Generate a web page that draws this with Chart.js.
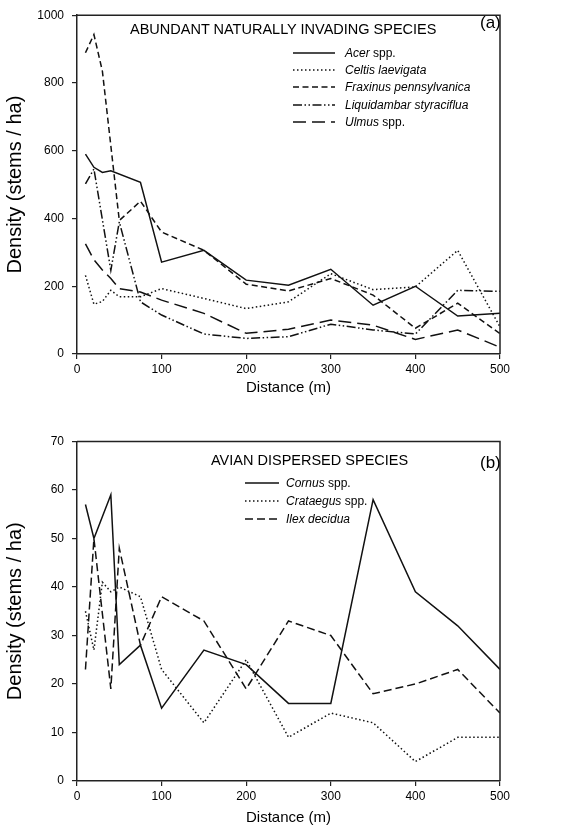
<!DOCTYPE html>
<html>
<head>
<meta charset="utf-8">
<script src="https://cdn.jsdelivr.net/npm/chart.js@4.4.0/dist/chart.umd.min.js"></script>
<style>
  body { margin: 0; background: #fff; }
  #page { position: relative; width: 572px; height: 836px; font-family: "Liberation Sans", Arial, sans-serif; color: #000; }
  canvas { position: absolute; left: 0; }
  #chartA { top: 0; }
  #chartB { top: 418px; }
  .head { position: absolute; font-size: 14.5px; line-height: 18px; white-space: nowrap; }
  .panel { position: absolute; font-size: 17px; line-height: 20px; }
  .leg { position: absolute; height: 16px; font-size: 12px; line-height: 16px; white-space: nowrap; }
  .leg svg { position: absolute; top: 0; left: 0; }
  .leg span { position: absolute; top: 0; }
</style>
</head>
<body>
<div id="page">
  <canvas id="chartA" width="572" height="418"></canvas>
  <canvas id="chartB" width="572" height="418"></canvas>
  <div class="head" style="left:130px; top:20px;">ABUNDANT NATURALLY INVADING SPECIES</div>
  <div class="panel" style="left:480px; top:13px;">(a)</div>
  <div class="head" style="left:211px; top:451px;">AVIAN DISPERSED SPECIES</div>
  <div class="panel" style="left:480px; top:453px;">(b)</div>
</div>
<script>
// distances from forest edge (m)
const distances = [10, 20, 30, 40, 50, 75, 100, 150, 200, 250, 300, 350, 400, 450, 500];

// (a) abundant naturally invading species, stems / ha
const acer        = [590, 551, 536, 541, null, 507, 271, 306, 218, 203, 250, 144, 200, 112, 120];
const celtis      = [232, 147, 155, 188, 169, 169, 193, 164, 134, 154, 237, 190, 198, 306, 80];
const fraxinus    = [889, 943, 835, null, 394, 451, 360, 306, 206, 186, 223, 174, 76, 150, 60];
const liquidambar = [502, 546, null, 247, 390, 154, 115, 59, 46, 51, 88, 71, 59, 188, 185];
const ulmus       = [325, 278, 248, 223, 193, 183, 159, 120, 61, 73, 100, 85, 43, 71, 20];

// (b) avian dispersed species, stems / ha
const cornus    = [57, 50, null, 59, 24, 28, 15, 27, 24, 16, 16, 58, 39, 32, 23];
const crataegus = [35, 27, 41, 39, 40, 38, 23, 12, 25, 9, 14, 12, 4, 9, 9];
const ilex      = [23, 50, null, 19, 48, 28, 38, 33, 19, 33, 30, 18, 20, 23, 14];

// legend names: [italic part, plain part]
const namesA = [['Acer', ' spp.'], ['Celtis laevigata', ''], ['Fraxinus pennsylvanica', ''], ['Liquidambar styraciflua', ''], ['Ulmus', ' spp.']];
const namesB = [['Cornus', ' spp.'], ['Crataegus', ' spp.'], ['Ilex decidua', '']];

const xTicks = [0, 100, 200, 300, 400, 500];
const yTicksA = [0, 200, 400, 600, 800, 1000];
const yTicksB = [0, 10, 20, 30, 40, 50, 60, 70];

const dashesA = [[], [1.5, 2.5], [6, 3.5], [9, 2.5, 1.5, 2.5, 1.5, 2.5], [13, 6]];
const dashesB = [[], [1.5, 2.5], [8, 4]];

const FONT = '"Liberation Sans", Arial, sans-serif';
Chart.defaults.font.family = FONT;
Chart.defaults.color = '#000';

function makeSets(seriesList, names, dashes) {
  return seriesList.map((vals, i) => ({
    label: names[i].join(''),
    data: distances.map((d, k) => ({ x: d, y: vals[k] })),
    borderColor: '#111',
    borderWidth: 1.5,
    borderDash: dashes[i],
    pointRadius: 0,
    fill: false,
    tension: 0,
    spanGaps: true
  }));
}

// draw the top and right edges of the box
const framePlugin = {
  id: 'frame',
  afterDraw(chart) {
    const a = chart.chartArea;
    const ctx = chart.ctx;
    ctx.save();
    ctx.strokeStyle = '#222';
    ctx.lineWidth = 1.5;
    ctx.beginPath();
    ctx.moveTo(a.left, a.top);
    ctx.lineTo(a.right, a.top);
    ctx.lineTo(a.right, a.bottom);
    ctx.stroke();
    ctx.restore();
  }
};

function makeOptions(cfg) {
  return {
    responsive: false,
    animation: false,
    layout: { padding: { top: cfg.padTop, right: 72, left: 0, bottom: 0 } },
    plugins: { legend: { display: false }, tooltip: { enabled: false } },
    scales: {
      x: {
        type: 'linear',
        min: 0,
        max: 500,
        afterBuildTicks: s => { s.ticks = xTicks.map(v => ({ value: v })); },
        ticks: { padding: 3, font: { size: 12 }, color: '#000' },
        grid: { drawOnChartArea: false, tickLength: 5, color: '#222', lineWidth: 1.2 },
        border: { color: '#222', width: 1.5 },
        title: { display: true, text: 'Distance (m)', font: { size: 15 }, color: '#000', padding: { top: 0, bottom: cfg.xTitlePad } },
        afterFit: s => { s.height = cfg.xAxisH; }
      },
      y: {
        min: 0,
        max: cfg.yTicks[cfg.yTicks.length - 1],
        afterBuildTicks: s => { s.ticks = cfg.yTicks.map(v => ({ value: v })); },
        ticks: { padding: 8, font: { size: 12 }, color: '#000', callback: v => String(v) },
        grid: { drawOnChartArea: false, tickLength: 5, color: '#222', lineWidth: 1.2 },
        border: { color: '#222', width: 1.5 },
        title: { display: true, text: 'Density (stems / ha)', font: { size: 20 }, color: '#000', padding: { top: 3, bottom: 0 } },
        afterFit: s => { s.width = 77; }
      }
    }
  };
}

new Chart(document.getElementById('chartA'), {
  type: 'line',
  data: { datasets: makeSets([acer, celtis, fraxinus, liquidambar, ulmus], namesA, dashesA) },
  options: makeOptions({ padTop: 14, xAxisH: 64, xTitlePad: 21, yTicks: yTicksA }),
  plugins: [framePlugin]
});

new Chart(document.getElementById('chartB'), {
  type: 'line',
  data: { datasets: makeSets([cornus, crataegus, ilex], namesB, dashesB) },
  options: makeOptions({ padTop: 23.5, xAxisH: 55, xTitlePad: 9, yTicks: yTicksB }),
  plugins: [framePlugin]
});

// in-plot legends
function makeLegend(names, dashes, left, lineLen, textLeft, top, step) {
  const page = document.getElementById('page');
  names.forEach((n, i) => {
    const row = document.createElement('div');
    row.className = 'leg';
    row.style.left = left + 'px';
    row.style.top = (top + i * step - 8) + 'px';
    const dash = dashes[i].length ? dashes[i].join(' ') : 'none';
    row.innerHTML =
      '<svg width="' + lineLen + '" height="16"><line x1="0" y1="8" x2="' + lineLen + '" y2="8" stroke="#111" stroke-width="1.5" stroke-dasharray="' + dash + '"/></svg>' +
      '<span style="left:' + (textLeft - left) + 'px"><i>' + n[0] + '</i>' + n[1] + '</span>';
    page.appendChild(row);
  });
}

makeLegend(namesA, dashesA, 293, 42, 345, 53, 17.2);
makeLegend(namesB, dashesB, 245, 34, 286, 483, 17.8);
</script>
</body>
</html>
